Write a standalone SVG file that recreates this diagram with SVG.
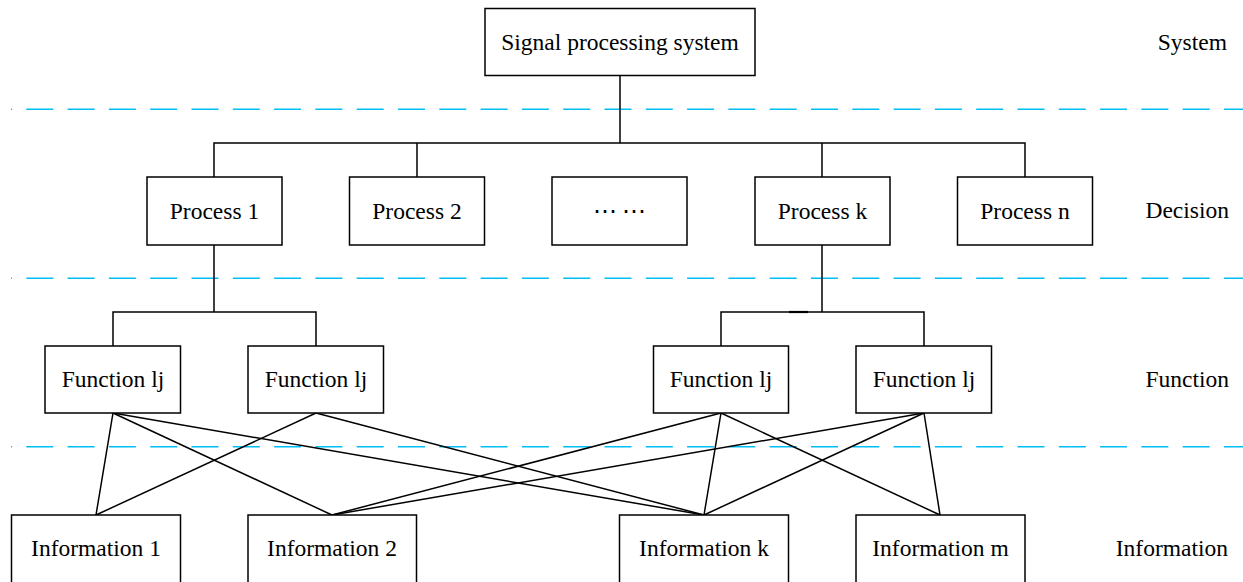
<svg xmlns="http://www.w3.org/2000/svg" width="1243" height="582" viewBox="0 0 1243 582">
<style>
.box{fill:#fff;stroke:#000;stroke-width:1.5}
text{font-family:'Liberation Serif','Times New Roman',Times,serif;font-size:23.5px;fill:#000}
.t{text-anchor:middle}
.lbl{text-anchor:end}
.c{stroke:#000;stroke-width:1.5;fill:none}
.d{stroke:#00BFF5;stroke-width:1.6;stroke-dasharray:27 14.3;stroke-dashoffset:26;fill:none}
</style>
<rect width="1243" height="582" fill="#fff"/>
<g id="layers" font-family="Liberation Serif, serif">
<line class="d" x1="11" y1="109.3" x2="1243" y2="109.3"/>
<line class="d" x1="11" y1="278.3" x2="1243" y2="278.3"/>
<line class="d" x1="11" y1="446.7" x2="1243" y2="446.7"/>
<text class="lbl" x="1227" y="50">System</text>
<text class="lbl" x="1229" y="218">Decision</text>
<text class="lbl" x="1229" y="387">Function</text>
<text class="lbl" x="1228" y="556">Information</text>
</g>
<g id="connectors">
<polyline class="c" points="620,76 620,143"/>
<polyline class="c" points="214,177 214,143 1025,143 1025,177"/>
<line class="c" x1="417" y1="143" x2="417" y2="177"/>
<line class="c" x1="822" y1="143" x2="822" y2="177"/>
<line class="c" x1="214" y1="245" x2="214" y2="312"/>
<polyline class="c" points="113,346 113,312 316,312 316,346"/>
<line class="c" x1="822" y1="245" x2="822" y2="312"/>
<polyline class="c" points="721,346 721,312 924,312 924,346"/>
<line x1="789" y1="312" x2="808" y2="312" stroke="#000" stroke-width="2.2"/>
<line class="c" x1="113" y1="413" x2="96" y2="515"/>
<line class="c" x1="113" y1="413" x2="332" y2="515"/>
<line class="c" x1="113" y1="413" x2="704" y2="515"/>
<line class="c" x1="316" y1="413" x2="96" y2="515"/>
<line class="c" x1="316" y1="413" x2="704" y2="515"/>
<line class="c" x1="721" y1="413" x2="332" y2="515"/>
<line class="c" x1="721" y1="413" x2="704" y2="515"/>
<line class="c" x1="721" y1="413" x2="940" y2="515"/>
<line class="c" x1="924" y1="413" x2="332" y2="515"/>
<line class="c" x1="924" y1="413" x2="704" y2="515"/>
<line class="c" x1="924" y1="413" x2="940" y2="515"/>
</g>
<g id="system"><rect class="box" x="485" y="8.5" width="270" height="67"/><text class="t" x="620" y="50">Signal processing system</text></g>
<g id="process1"><rect class="box" x="147" y="177" width="135" height="68"/><text class="t" x="214.5" y="218.5">Process 1</text></g>
<g id="process2"><rect class="box" x="349.5" y="177" width="135" height="68"/><text class="t" x="417" y="218.5">Process 2</text></g>
<g id="processdots"><rect class="box" x="552" y="177" width="135" height="68"/><text class="t" x="619.5" y="218.5">⋯ ⋯</text></g>
<g id="processk"><rect class="box" x="755" y="177" width="135" height="68"/><text class="t" x="822.5" y="218.5">Process k</text></g>
<g id="processn"><rect class="box" x="957.5" y="177" width="135" height="68"/><text class="t" x="1025" y="218.5">Process n</text></g>
<g id="function1"><rect class="box" x="45" y="346" width="135.5" height="67"/><text class="t" x="113" y="387">Function lj</text></g>
<g id="function2"><rect class="box" x="248" y="346" width="135.5" height="67"/><text class="t" x="316" y="387">Function lj</text></g>
<g id="function3"><rect class="box" x="653.5" y="346" width="135" height="67"/><text class="t" x="721" y="387">Function lj</text></g>
<g id="function4"><rect class="box" x="856" y="346" width="135.5" height="67"/><text class="t" x="924" y="387">Function lj</text></g>
<g id="info1"><rect class="box" x="11.5" y="515" width="169" height="75"/><text class="t" x="96" y="556">Information 1</text></g>
<g id="info2"><rect class="box" x="248" y="515" width="168.5" height="75"/><text class="t" x="332" y="556">Information 2</text></g>
<g id="infok"><rect class="box" x="619.5" y="515" width="169" height="75"/><text class="t" x="704" y="556">Information k</text></g>
<g id="infom"><rect class="box" x="856" y="515" width="169" height="75"/><text class="t" x="940.5" y="556">Information m</text></g>
</svg>
